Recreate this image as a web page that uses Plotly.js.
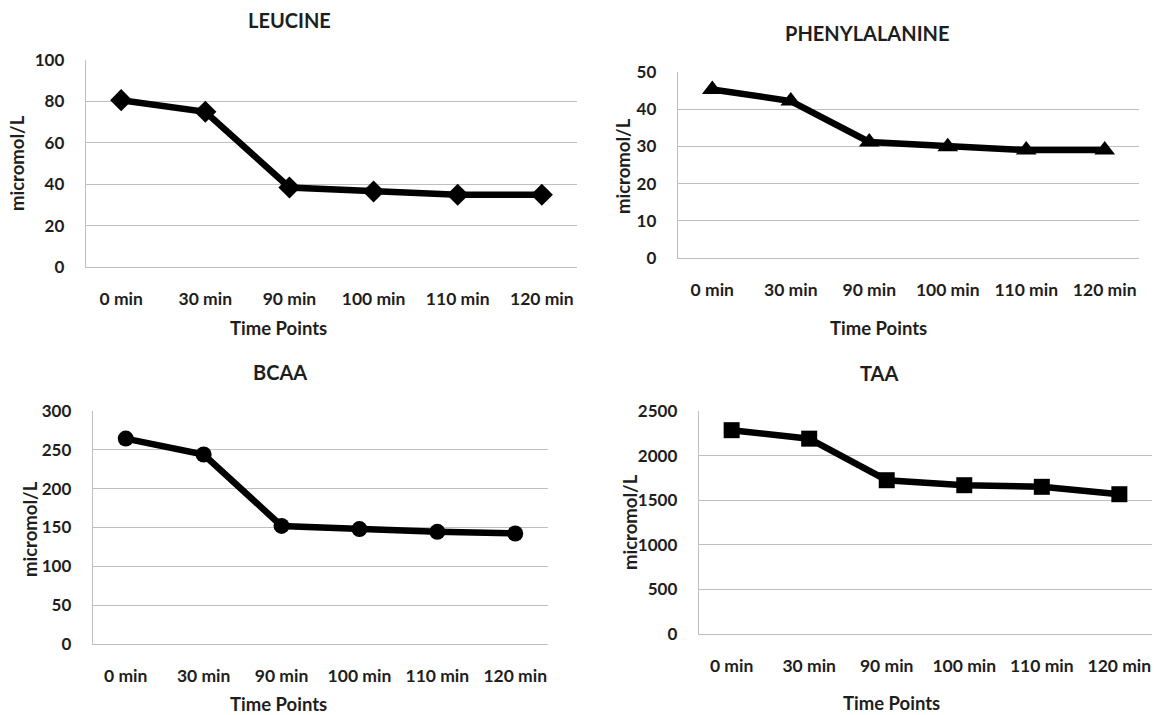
<!DOCTYPE html>
<html>
<head>
<meta charset="utf-8">
<script src="https://cdn.plot.ly/plotly-3.0.1.min.js"></script>
<style>html,body{margin:0;padding:0;background:#fff;}#chart{width:1155px;height:715px;}</style>
</head>
<body>
<div id="chart"></div>
<script>
// ---- data ----
const categories = ["0 min", "30 min", "90 min", "100 min", "110 min", "120 min"];
const leucine = [80.6, 75.0, 38.4, 36.5, 34.9, 34.9];
const phenylalanine = [45.3, 42.2, 31.2, 29.9, 29.0, 29.0];
const bcaa = [264.5, 244.0, 152.0, 148.0, 144.4, 142.3];
const taa = [2285, 2190, 1724, 1668, 1650, 1567];
const panelTitles = ["LEUCINE", "PHENYLALANINE", "BCAA", "TAA"];
const xTitle = "Time Points";
const yTitle = "micromol/L";
const yRanges = [[0, 100], [0, 50], [0, 300], [0, 2500]];
const yDticks = [20, 10, 50, 500];

// ---- layout geometry (pixels) ----
const W = 1155, H = 715;
const fx = x => x / W;
const fy = y => 1 - y / H;
const boxes = [
  {l: 86, r: 577, t: 60, b: 267, title: [289, 20], xt: [278, 328], yt: [17, 163]},
  {l: 678, r: 1139, t: 72, b: 258, title: [867, 33], xt: [878, 328], yt: [623, 166]},
  {l: 93, r: 548, t: 411, b: 644, title: [280, 372], xt: [278, 704], yt: [30, 529]},
  {l: 699, r: 1152, t: 411, b: 634, title: [879, 373], xt: [891, 703], yt: [630, 522]}
];
const series = [leucine, phenylalanine, bcaa, taa];
const symbols = ["diamond", "triangle-up", "circle", "square"];
const msize = [17, 18, 16, 16];

const FONT = "Lato, 'Open Sans', sans-serif";
const TXT = "#1e1e1e";
const gridCol = "#bfbfbf";

const traces = [];
const layout = {
  width: W, height: H,
  margin: {l: 0, r: 0, t: 0, b: 0},
  paper_bgcolor: "#fff", plot_bgcolor: "#fff",
  showlegend: false,
  font: {family: FONT, color: TXT, size: 17, weight: 700},
  annotations: []
};

boxes.forEach((bx, i) => {
  const n = i + 1;
  const xa = n === 1 ? "x" : "x" + n;
  const ya = n === 1 ? "y" : "y" + n;
  traces.push({
    type: "scatter", mode: "lines+markers",
    x: categories, y: series[i],
    xaxis: xa, yaxis: ya,
    line: {color: "#000", width: 6.5},
    marker: {symbol: symbols[i], size: msize[i], color: "#000"},
    hoverinfo: "x+y"
  });
  layout["xaxis" + (n === 1 ? "" : n)] = {
    domain: [fx(bx.l), fx(bx.r)],
    anchor: ya,
    type: "category",
    showgrid: false, zeroline: false,
    showline: true, linecolor: gridCol, linewidth: 1.3,
    ticks: "outside", ticklen: 16, tickcolor: "rgba(0,0,0,0)",
    tickfont: {family: FONT, size: 17.5, color: TXT, weight: 700},
    fixedrange: true
  };
  layout["yaxis" + (n === 1 ? "" : n)] = {
    domain: [fy(bx.b), fy(bx.t)],
    anchor: xa,
    range: yRanges[i], dtick: yDticks[i], tick0: 0,
    showgrid: true, gridcolor: gridCol, gridwidth: 1.3,
    zeroline: false,
    showline: true, linecolor: gridCol, linewidth: 1.3,
    ticks: "outside", ticklen: 17, tickcolor: "rgba(0,0,0,0)",
    tickfont: {family: FONT, size: 17, color: TXT, weight: 700},
    fixedrange: true
  };
  layout.annotations.push({
    text: panelTitles[i], xref: "paper", yref: "paper",
    x: fx(bx.title[0]), y: fy(bx.title[1]), xanchor: "center", yanchor: "middle",
    showarrow: false, font: {family: FONT, size: 20, color: TXT, weight: 700}
  });
  layout.annotations.push({
    text: xTitle, xref: "paper", yref: "paper",
    x: fx(bx.xt[0]), y: fy(bx.xt[1]), xanchor: "center", yanchor: "middle",
    showarrow: false, font: {family: FONT, size: 18.5, color: TXT, weight: 700}
  });
  layout.annotations.push({
    text: yTitle, xref: "paper", yref: "paper", textangle: -90,
    x: fx(bx.yt[0]), y: fy(bx.yt[1]), xanchor: "center", yanchor: "middle",
    showarrow: false, font: {family: FONT, size: 18.5, color: TXT, weight: 700}
  });
});

Plotly.newPlot("chart", traces, layout, {displayModeBar: false, staticPlot: true});
</script>
</body>
</html>
